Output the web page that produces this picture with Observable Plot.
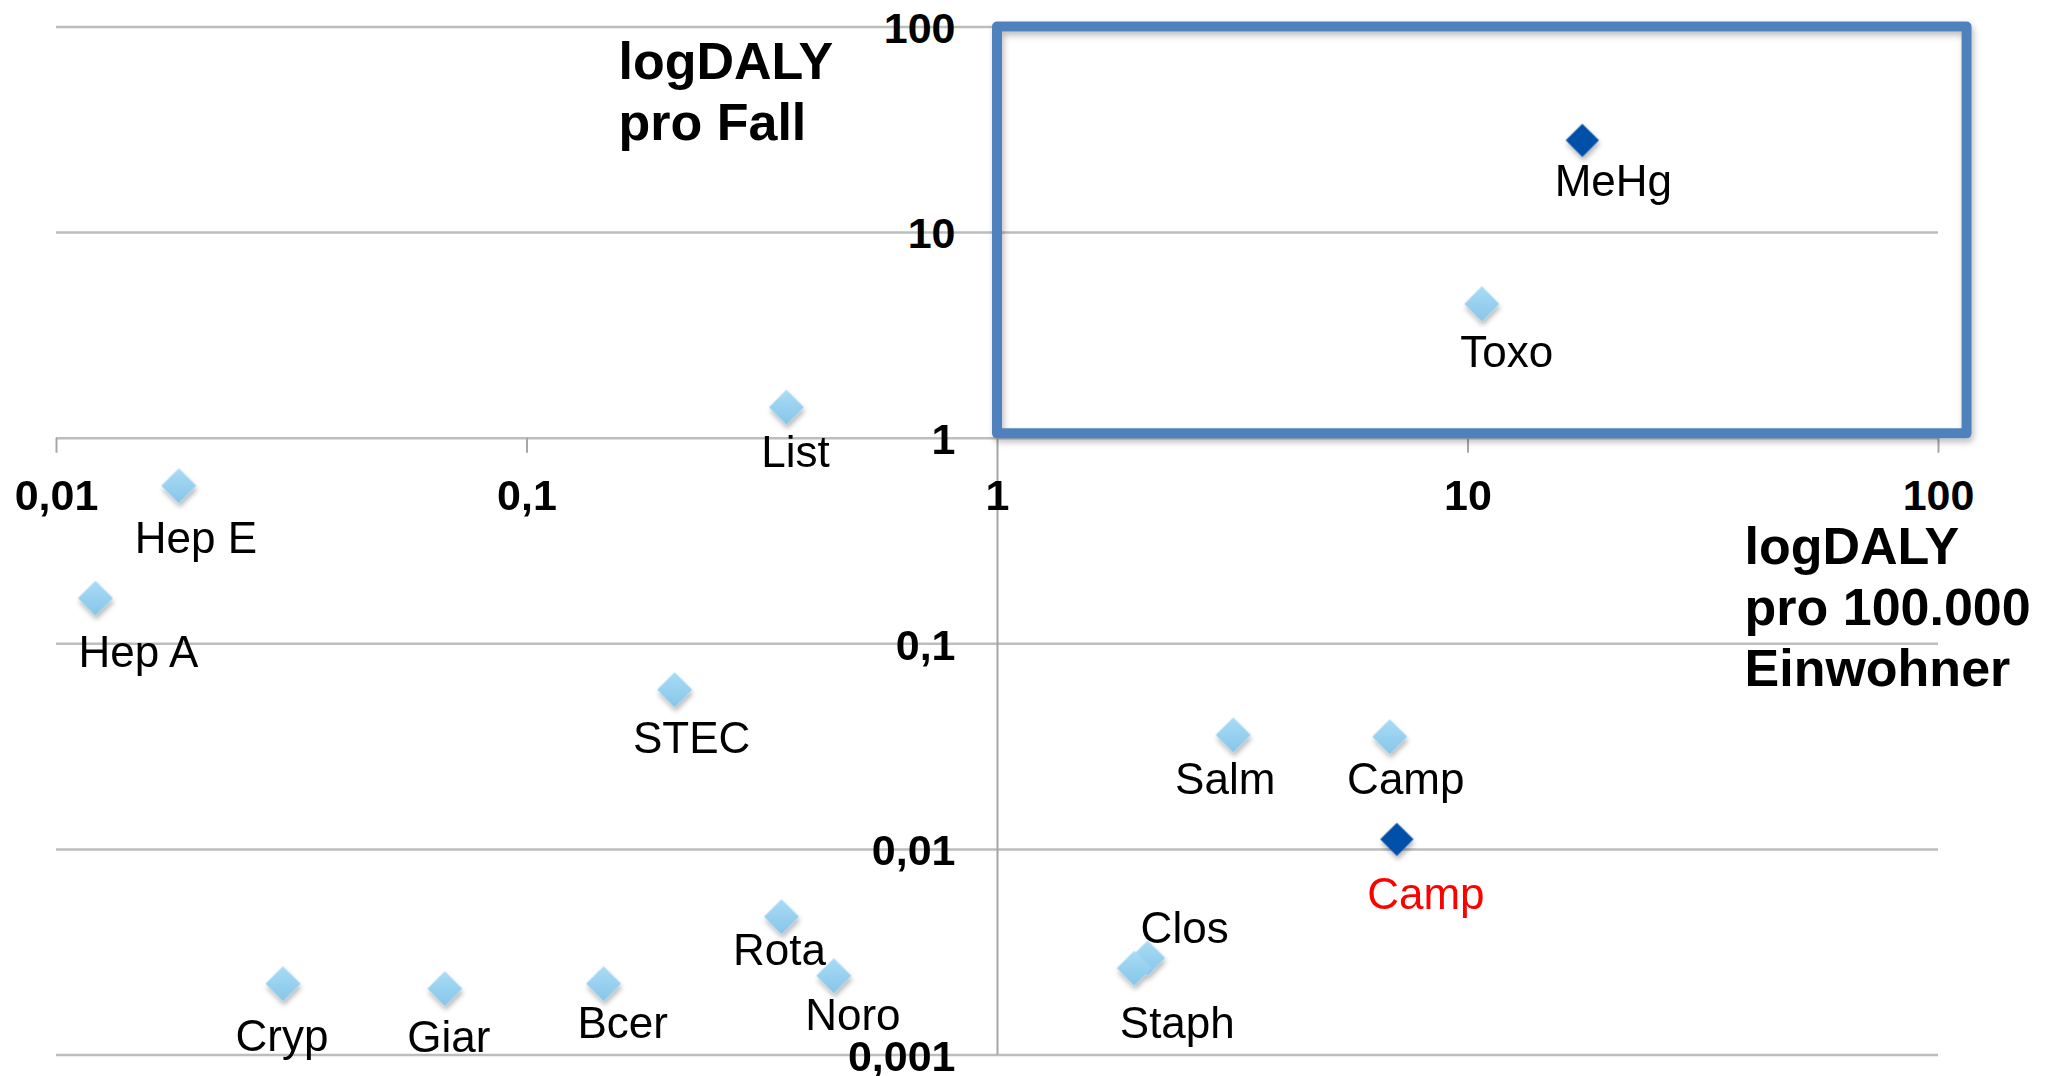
<!DOCTYPE html>
<html>
<head>
<meta charset="utf-8">
<script src="https://cdn.jsdelivr.net/npm/d3@7"></script>
<script src="https://cdn.jsdelivr.net/npm/@observablehq/plot@0.6"></script>
<style>
  html, body { margin: 0; padding: 0; background: #ffffff; }
  #chart svg { display: block; }
</style>
</head>
<body>
<div id="chart"></div>
<script>
// ---- Data ----
const names = ["List", "Hep E", "Hep A", "STEC", "Rota", "Noro", "Cryp", "Giar", "Bcer",
               "MeHg", "Toxo", "Salm", "Camp", "Camp", "Clos", "Staph"];
// logDALY pro 100.000 Einwohner (x)
const dalyPer100k = [0.356, 0.0182, 0.0121, 0.206, 0.3475, 0.449, 0.0303, 0.0669, 0.1455,
                     17.5, 10.7, 3.17, 6.82, 7.06, 2.085, 1.953];
// logDALY pro Fall (y)
const dalyPerCase = [1.415, 0.587, 0.1665, 0.0597, 0.0047, 0.00243, 0.00222, 0.0021, 0.00222,
                     28.1, 4.5, 0.036, 0.0353, 0.0112, 0.00296, 0.00264];
// series: "hell" = light diamonds, "dunkel" = dark diamonds
const series = ["hell", "hell", "hell", "hell", "hell", "hell", "hell", "hell", "hell",
                "dunkel", "hell", "hell", "hell", "dunkel", "hell", "hell"];

const xTicks = [0.01, 0.1, 1, 10, 100];
const xTickLabels = ["0,01", "0,1", "1", "10", "100"];
const yTicks = [0.001, 0.01, 0.1, 1, 10, 100];
const yTickLabels = ["0,001", "0,01", "0,1", "1", "10", "100"];

// highlighted region (data units)
const boxX = [1, 115];
const boxY = [1.05, 100];

const yTitle = "logDALY\npro Fall";
const xTitle = "logDALY\npro 100.000\nEinwohner";

// ---- Styling ----
const labelOffsets = [[9,44],[17,51],[43,53],[17,47],[-2,32],[19,38],[-1,51],[4,47],[19,38],
                      [31,40],[25,47],[-8,43],[16,41],[29,54],[37,-31],[43,54]];
const labelColors = names.map((n, i) => i === 13 ? "#ff0000" : "#000000");

const points = names.map((n, i) => ({name: n, x: dalyPer100k[i], y: dalyPerCase[i], s: series[i], i}));

const font = "'Liberation Sans', Arial, Helvetica, sans-serif";

const labelMarks = points.map(p => Plot.text([p], {
  x: "x", y: "y", text: "name",
  dx: labelOffsets[p.i][0], dy: labelOffsets[p.i][1] + 2,
  fontSize: 44, fill: labelColors[p.i],
  textAnchor: "middle", lineAnchor: "middle"
}));

const chart = Plot.plot({
  width: 2049,
  height: 1076,
  marginLeft: 56,
  marginRight: 111,
  marginTop: 26.5,
  marginBottom: 21.5,
  style: {fontFamily: font, background: "#ffffff", overflow: "visible"},
  x: {type: "log", domain: [0.01, 100], axis: null},
  y: {type: "log", domain: [0.001, 100], axis: null},
  marks: [
    // horizontal gridlines (incl. x axis at 1)
    Plot.ruleY(yTicks, {y: d => d, stroke: "#bdbdbd", strokeWidth: 2.5}),
    // vertical axis at x = 1
    Plot.ruleX([1], {x: d => d, y1: () => 0.001, y2: () => 100, stroke: "#a6a6a6", strokeWidth: 2}),
    // x tick marks (downward)
    Plot.ruleX(xTicks.filter(d => d !== 1), {x: d => d, y1: () => 1, y2: () => 1, insetBottom: -15, stroke: "#a6a6a6", strokeWidth: 2}),
    // highlight box
    Plot.rect([0], {x1: () => boxX[0], x2: () => boxX[1], y1: () => boxY[0], y2: () => boxY[1],
      fill: "none", stroke: "#4f81bd", strokeWidth: 10, strokeLinejoin: "round"}),
    // diamonds
    Plot.dot(points.filter(p => p.s === "hell"), {x: "x", y: "y", symbol: "diamond2", r: 15.8,
      fill: "url(#lightGrad)", stroke: "none"}),
    Plot.dot(points.filter(p => p.s === "dunkel"), {x: "x", y: "y", symbol: "diamond2", r: 15,
      fill: "#0650a8", stroke: "none"}),
    ...labelMarks,
    // x tick labels
    Plot.text(xTicks, {x: d => d, y: () => 1, text: (d, i) => xTickLabels[i], dy: 58,
      fontSize: 43, fontWeight: "bold", fill: "#000", textAnchor: "middle", lineAnchor: "middle"}),
    // y tick labels
    Plot.text(yTicks, {x: () => 1, y: d => d, text: (d, i) => yTickLabels[i], dx: -42, dy: 2,
      fontSize: 43, fontWeight: "bold", fill: "#000", textAnchor: "end", lineAnchor: "middle"}),
    // axis titles
    Plot.text([0], {frameAnchor: "top-left", text: () => yTitle, dx: 562, dy: 9.3,
      fontSize: 52, fontWeight: "bold", fill: "#000", textAnchor: "start", lineAnchor: "top", lineHeight: 1.163}),
    Plot.text([0], {frameAnchor: "top-left", text: () => xTitle, dx: 1688, dy: 493.5,
      fontSize: 52, fontWeight: "bold", fill: "#000", textAnchor: "start", lineAnchor: "top", lineHeight: 1.175})
  ]
});

// gradient + shadow definitions
const ns = "http://www.w3.org/2000/svg";
const defs = document.createElementNS(ns, "defs");
defs.innerHTML = `
  <linearGradient id="lightGrad" x1="0" y1="0" x2="0" y2="1">
    <stop offset="0" stop-color="#aadcf5"/>
    <stop offset="1" stop-color="#86c6ea"/>
  </linearGradient>
  <filter id="shadow" x="-30%" y="-30%" width="160%" height="170%">
    <feDropShadow dx="1" dy="4" stdDeviation="2.5" flood-color="#000" flood-opacity="0.28"/>
  </filter>
  <filter id="boxShadow" x="-5%" y="-5%" width="110%" height="115%">
    <feDropShadow dx="2" dy="4" stdDeviation="3" flood-color="#000" flood-opacity="0.25"/>
  </filter>`;
chart.insertBefore(defs, chart.firstChild);
chart.querySelectorAll('g[aria-label="dot"]').forEach(g => g.setAttribute("filter", "url(#shadow)"));
chart.querySelectorAll('g[aria-label="rect"]').forEach(g => g.setAttribute("filter", "url(#boxShadow)"));

document.getElementById("chart").appendChild(chart);
</script>
</body>
</html>
